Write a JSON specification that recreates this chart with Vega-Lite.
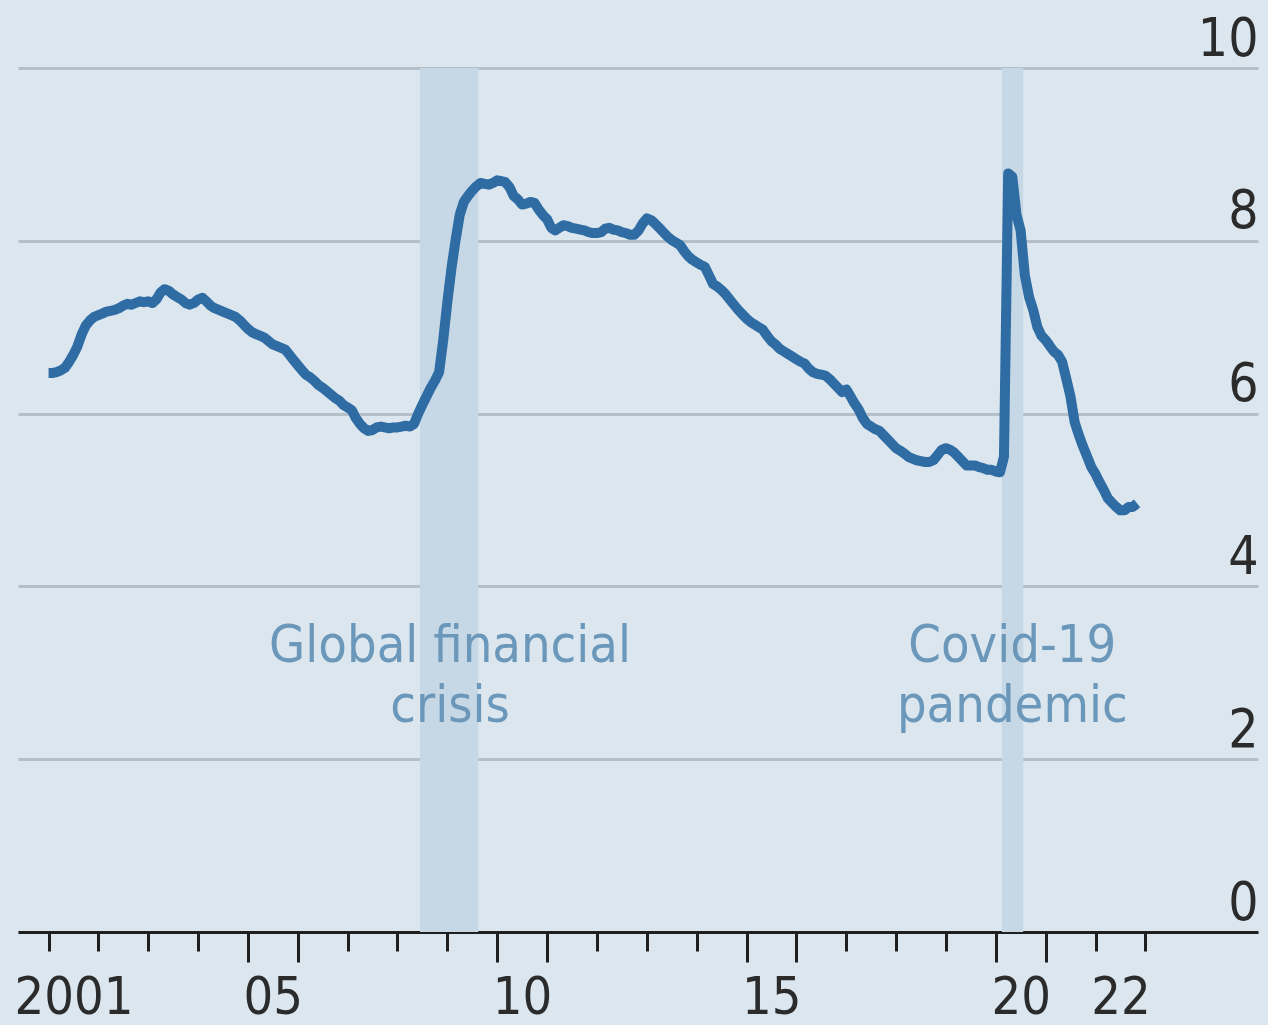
{
  "$schema": "https://vega.github.io/schema/vega-lite/v6.json",
  "width": 1240,
  "height": 864,
  "autosize": {"type": "none"},
  "padding": {"left": 18, "top": 68, "right": 10, "bottom": 93},
  "background": "#dbe6ee",
  "config": {
    "view": {"stroke": null},
    "font": "DejaVu Sans Condensed, DejaVu Sans, sans-serif",
    "axis": {"labelFont": "DejaVu Sans Condensed, DejaVu Sans, sans-serif", "labelColor": "#2b2b2b", "labelFontSize": 53, "title": null}
  },
  "datasets": {
    "bands": [
      {"start": "2008-06-15", "end": "2009-08-15", "event": "Global financial crisis"},
      {"start": "2020-02-15", "end": "2020-07-20", "event": "Covid-19 pandemic"}
    ],
    "notes": [
      {"date": "2009-01-20", "value": 3.12, "label": "Global financial|crisis"},
      {"date": "2020-05-01", "value": 3.12, "label": "Covid-19|pandemic"}
    ],
    "series": [
      {"date": "2001-01-01", "rate": 6.47}, {"date": "2001-02-01", "rate": 6.47}, {"date": "2001-03-01", "rate": 6.48}, {"date": "2001-04-01", "rate": 6.5}, {"date": "2001-05-01", "rate": 6.53}, {"date": "2001-06-01", "rate": 6.6}, {"date": "2001-07-01", "rate": 6.68}, {"date": "2001-08-01", "rate": 6.78}, {"date": "2001-09-01", "rate": 6.92}, {"date": "2001-10-01", "rate": 7.02}, {"date": "2001-11-01", "rate": 7.08}, {"date": "2001-12-01", "rate": 7.12},
      {"date": "2002-01-01", "rate": 7.14}, {"date": "2002-02-01", "rate": 7.16}, {"date": "2002-03-01", "rate": 7.18}, {"date": "2002-04-01", "rate": 7.19}, {"date": "2002-05-01", "rate": 7.2}, {"date": "2002-06-01", "rate": 7.22}, {"date": "2002-07-01", "rate": 7.25}, {"date": "2002-08-01", "rate": 7.27}, {"date": "2002-09-01", "rate": 7.26}, {"date": "2002-10-01", "rate": 7.28}, {"date": "2002-11-01", "rate": 7.3}, {"date": "2002-12-01", "rate": 7.29},
      {"date": "2003-01-01", "rate": 7.3}, {"date": "2003-02-01", "rate": 7.28}, {"date": "2003-03-01", "rate": 7.32}, {"date": "2003-04-01", "rate": 7.4}, {"date": "2003-05-01", "rate": 7.44}, {"date": "2003-06-01", "rate": 7.42}, {"date": "2003-07-01", "rate": 7.38}, {"date": "2003-08-01", "rate": 7.35}, {"date": "2003-09-01", "rate": 7.32}, {"date": "2003-10-01", "rate": 7.28}, {"date": "2003-11-01", "rate": 7.26}, {"date": "2003-12-01", "rate": 7.28},
      {"date": "2004-01-01", "rate": 7.32}, {"date": "2004-02-01", "rate": 7.34}, {"date": "2004-03-01", "rate": 7.3}, {"date": "2004-04-01", "rate": 7.25}, {"date": "2004-05-01", "rate": 7.22}, {"date": "2004-06-01", "rate": 7.2}, {"date": "2004-07-01", "rate": 7.18}, {"date": "2004-08-01", "rate": 7.16}, {"date": "2004-09-01", "rate": 7.14}, {"date": "2004-10-01", "rate": 7.12}, {"date": "2004-11-01", "rate": 7.08}, {"date": "2004-12-01", "rate": 7.03},
      {"date": "2005-01-01", "rate": 6.98}, {"date": "2005-02-01", "rate": 6.94}, {"date": "2005-03-01", "rate": 6.92}, {"date": "2005-04-01", "rate": 6.9}, {"date": "2005-05-01", "rate": 6.88}, {"date": "2005-06-01", "rate": 6.84}, {"date": "2005-07-01", "rate": 6.8}, {"date": "2005-08-01", "rate": 6.78}, {"date": "2005-09-01", "rate": 6.76}, {"date": "2005-10-01", "rate": 6.74}, {"date": "2005-11-01", "rate": 6.68}, {"date": "2005-12-01", "rate": 6.62},
      {"date": "2006-01-01", "rate": 6.56}, {"date": "2006-02-01", "rate": 6.5}, {"date": "2006-03-01", "rate": 6.45}, {"date": "2006-04-01", "rate": 6.42}, {"date": "2006-05-01", "rate": 6.38}, {"date": "2006-06-01", "rate": 6.33}, {"date": "2006-07-01", "rate": 6.3}, {"date": "2006-08-01", "rate": 6.26}, {"date": "2006-09-01", "rate": 6.22}, {"date": "2006-10-01", "rate": 6.18}, {"date": "2006-11-01", "rate": 6.15}, {"date": "2006-12-01", "rate": 6.1},
      {"date": "2007-01-01", "rate": 6.07}, {"date": "2007-02-01", "rate": 6.04}, {"date": "2007-03-01", "rate": 5.95}, {"date": "2007-04-01", "rate": 5.88}, {"date": "2007-05-01", "rate": 5.83}, {"date": "2007-06-01", "rate": 5.8}, {"date": "2007-07-01", "rate": 5.81}, {"date": "2007-08-01", "rate": 5.84}, {"date": "2007-09-01", "rate": 5.85}, {"date": "2007-10-01", "rate": 5.84}, {"date": "2007-11-01", "rate": 5.83}, {"date": "2007-12-01", "rate": 5.84},
      {"date": "2008-01-01", "rate": 5.84}, {"date": "2008-02-01", "rate": 5.85}, {"date": "2008-03-01", "rate": 5.86}, {"date": "2008-04-01", "rate": 5.85}, {"date": "2008-05-01", "rate": 5.88}, {"date": "2008-06-01", "rate": 6.0}, {"date": "2008-07-01", "rate": 6.1}, {"date": "2008-08-01", "rate": 6.2}, {"date": "2008-09-01", "rate": 6.3}, {"date": "2008-10-01", "rate": 6.38}, {"date": "2008-11-01", "rate": 6.48}, {"date": "2008-12-01", "rate": 6.85},
      {"date": "2009-01-01", "rate": 7.3}, {"date": "2009-02-01", "rate": 7.7}, {"date": "2009-03-01", "rate": 8.0}, {"date": "2009-04-01", "rate": 8.3}, {"date": "2009-05-01", "rate": 8.45}, {"date": "2009-06-01", "rate": 8.52}, {"date": "2009-07-01", "rate": 8.58}, {"date": "2009-08-01", "rate": 8.63}, {"date": "2009-09-01", "rate": 8.67}, {"date": "2009-10-01", "rate": 8.66}, {"date": "2009-11-01", "rate": 8.65}, {"date": "2009-12-01", "rate": 8.67},
      {"date": "2010-01-01", "rate": 8.7}, {"date": "2010-02-01", "rate": 8.69}, {"date": "2010-03-01", "rate": 8.68}, {"date": "2010-04-01", "rate": 8.62}, {"date": "2010-05-01", "rate": 8.52}, {"date": "2010-06-01", "rate": 8.48}, {"date": "2010-07-01", "rate": 8.42}, {"date": "2010-08-01", "rate": 8.43}, {"date": "2010-09-01", "rate": 8.45}, {"date": "2010-10-01", "rate": 8.44}, {"date": "2010-11-01", "rate": 8.36}, {"date": "2010-12-01", "rate": 8.3},
      {"date": "2011-01-01", "rate": 8.25}, {"date": "2011-02-01", "rate": 8.15}, {"date": "2011-03-01", "rate": 8.12}, {"date": "2011-04-01", "rate": 8.15}, {"date": "2011-05-01", "rate": 8.18}, {"date": "2011-06-01", "rate": 8.17}, {"date": "2011-07-01", "rate": 8.15}, {"date": "2011-08-01", "rate": 8.14}, {"date": "2011-09-01", "rate": 8.13}, {"date": "2011-10-01", "rate": 8.12}, {"date": "2011-11-01", "rate": 8.1}, {"date": "2011-12-01", "rate": 8.09},
      {"date": "2012-01-01", "rate": 8.09}, {"date": "2012-02-01", "rate": 8.1}, {"date": "2012-03-01", "rate": 8.14}, {"date": "2012-04-01", "rate": 8.15}, {"date": "2012-05-01", "rate": 8.13}, {"date": "2012-06-01", "rate": 8.12}, {"date": "2012-07-01", "rate": 8.1}, {"date": "2012-08-01", "rate": 8.09}, {"date": "2012-09-01", "rate": 8.07}, {"date": "2012-10-01", "rate": 8.07}, {"date": "2012-11-01", "rate": 8.12}, {"date": "2012-12-01", "rate": 8.2},
      {"date": "2013-01-01", "rate": 8.26}, {"date": "2013-02-01", "rate": 8.24}, {"date": "2013-03-01", "rate": 8.2}, {"date": "2013-04-01", "rate": 8.15}, {"date": "2013-05-01", "rate": 8.1}, {"date": "2013-06-01", "rate": 8.05}, {"date": "2013-07-01", "rate": 8.01}, {"date": "2013-08-01", "rate": 7.98}, {"date": "2013-09-01", "rate": 7.95}, {"date": "2013-10-01", "rate": 7.88}, {"date": "2013-11-01", "rate": 7.82}, {"date": "2013-12-01", "rate": 7.78},
      {"date": "2014-01-01", "rate": 7.75}, {"date": "2014-02-01", "rate": 7.72}, {"date": "2014-03-01", "rate": 7.7}, {"date": "2014-04-01", "rate": 7.6}, {"date": "2014-05-01", "rate": 7.5}, {"date": "2014-06-01", "rate": 7.47}, {"date": "2014-07-01", "rate": 7.43}, {"date": "2014-08-01", "rate": 7.38}, {"date": "2014-09-01", "rate": 7.32}, {"date": "2014-10-01", "rate": 7.26}, {"date": "2014-11-01", "rate": 7.2}, {"date": "2014-12-01", "rate": 7.15},
      {"date": "2015-01-01", "rate": 7.1}, {"date": "2015-02-01", "rate": 7.06}, {"date": "2015-03-01", "rate": 7.03}, {"date": "2015-04-01", "rate": 7.0}, {"date": "2015-05-01", "rate": 6.97}, {"date": "2015-06-01", "rate": 6.9}, {"date": "2015-07-01", "rate": 6.84}, {"date": "2015-08-01", "rate": 6.8}, {"date": "2015-09-01", "rate": 6.75}, {"date": "2015-10-01", "rate": 6.72}, {"date": "2015-11-01", "rate": 6.69}, {"date": "2015-12-01", "rate": 6.66},
      {"date": "2016-01-01", "rate": 6.63}, {"date": "2016-02-01", "rate": 6.6}, {"date": "2016-03-01", "rate": 6.58}, {"date": "2016-04-01", "rate": 6.52}, {"date": "2016-05-01", "rate": 6.48}, {"date": "2016-06-01", "rate": 6.46}, {"date": "2016-07-01", "rate": 6.45}, {"date": "2016-08-01", "rate": 6.44}, {"date": "2016-09-01", "rate": 6.4}, {"date": "2016-10-01", "rate": 6.35}, {"date": "2016-11-01", "rate": 6.3}, {"date": "2016-12-01", "rate": 6.25},
      {"date": "2017-01-01", "rate": 6.28}, {"date": "2017-02-01", "rate": 6.2}, {"date": "2017-03-01", "rate": 6.12}, {"date": "2017-04-01", "rate": 6.05}, {"date": "2017-05-01", "rate": 5.95}, {"date": "2017-06-01", "rate": 5.88}, {"date": "2017-07-01", "rate": 5.85}, {"date": "2017-08-01", "rate": 5.82}, {"date": "2017-09-01", "rate": 5.8}, {"date": "2017-10-01", "rate": 5.75}, {"date": "2017-11-01", "rate": 5.7}, {"date": "2017-12-01", "rate": 5.65},
      {"date": "2018-01-01", "rate": 5.6}, {"date": "2018-02-01", "rate": 5.57}, {"date": "2018-03-01", "rate": 5.54}, {"date": "2018-04-01", "rate": 5.5}, {"date": "2018-05-01", "rate": 5.48}, {"date": "2018-06-01", "rate": 5.46}, {"date": "2018-07-01", "rate": 5.45}, {"date": "2018-08-01", "rate": 5.44}, {"date": "2018-09-01", "rate": 5.44}, {"date": "2018-10-01", "rate": 5.46}, {"date": "2018-11-01", "rate": 5.52}, {"date": "2018-12-01", "rate": 5.58},
      {"date": "2019-01-01", "rate": 5.6}, {"date": "2019-02-01", "rate": 5.58}, {"date": "2019-03-01", "rate": 5.55}, {"date": "2019-04-01", "rate": 5.5}, {"date": "2019-05-01", "rate": 5.45}, {"date": "2019-06-01", "rate": 5.4}, {"date": "2019-07-01", "rate": 5.4}, {"date": "2019-08-01", "rate": 5.4}, {"date": "2019-09-01", "rate": 5.38}, {"date": "2019-10-01", "rate": 5.37}, {"date": "2019-11-01", "rate": 5.35}, {"date": "2019-12-01", "rate": 5.35},
      {"date": "2020-01-01", "rate": 5.33}, {"date": "2020-02-01", "rate": 5.32}, {"date": "2020-03-01", "rate": 5.5}, {"date": "2020-04-01", "rate": 8.78}, {"date": "2020-05-01", "rate": 8.74}, {"date": "2020-06-01", "rate": 8.3}, {"date": "2020-07-01", "rate": 8.12}, {"date": "2020-08-01", "rate": 7.6}, {"date": "2020-09-01", "rate": 7.35}, {"date": "2020-10-01", "rate": 7.2}, {"date": "2020-11-01", "rate": 7.0}, {"date": "2020-12-01", "rate": 6.9},
      {"date": "2021-01-01", "rate": 6.85}, {"date": "2021-02-01", "rate": 6.78}, {"date": "2021-03-01", "rate": 6.72}, {"date": "2021-04-01", "rate": 6.68}, {"date": "2021-05-01", "rate": 6.6}, {"date": "2021-06-01", "rate": 6.4}, {"date": "2021-07-01", "rate": 6.2}, {"date": "2021-08-01", "rate": 5.9}, {"date": "2021-09-01", "rate": 5.75}, {"date": "2021-10-01", "rate": 5.62}, {"date": "2021-11-01", "rate": 5.5}, {"date": "2021-12-01", "rate": 5.38},
      {"date": "2022-01-01", "rate": 5.3}, {"date": "2022-02-01", "rate": 5.2}, {"date": "2022-03-01", "rate": 5.12}, {"date": "2022-04-01", "rate": 5.02}, {"date": "2022-05-01", "rate": 4.97}, {"date": "2022-06-01", "rate": 4.92}, {"date": "2022-07-01", "rate": 4.88}, {"date": "2022-08-01", "rate": 4.88}, {"date": "2022-09-01", "rate": 4.92}, {"date": "2022-10-01", "rate": 4.92}, {"date": "2022-11-01", "rate": 4.96}
    ]
  },
  "resolve": {"axis": {"x": "independent", "y": "independent"}},
  "layer": [
    {
      "data": {"name": "bands"},
      "mark": {"type": "rect", "color": "#c6d7e5"},
      "encoding": {
        "x": {
          "field": "start", "type": "temporal",
          "scale": {"type": "utc", "domain": [{"year": 2000, "month": 5, "date": 22, "utc": true}, {"year": 2025, "month": 4, "date": 5, "utc": true}]},
          "axis": {
            "orient": "bottom",
            "values": [
              {"year": 2001, "month": 1, "date": 1, "utc": true}, {"year": 2002, "month": 1, "date": 1, "utc": true}, {"year": 2003, "month": 1, "date": 1, "utc": true}, {"year": 2004, "month": 1, "date": 1, "utc": true}, {"year": 2005, "month": 1, "date": 1, "utc": true}, {"year": 2006, "month": 1, "date": 1, "utc": true}, {"year": 2007, "month": 1, "date": 1, "utc": true}, {"year": 2008, "month": 1, "date": 1, "utc": true}, {"year": 2009, "month": 1, "date": 1, "utc": true}, {"year": 2010, "month": 1, "date": 1, "utc": true}, {"year": 2011, "month": 1, "date": 1, "utc": true}, {"year": 2012, "month": 1, "date": 1, "utc": true}, {"year": 2013, "month": 1, "date": 1, "utc": true}, {"year": 2014, "month": 1, "date": 1, "utc": true}, {"year": 2015, "month": 1, "date": 1, "utc": true}, {"year": 2016, "month": 1, "date": 1, "utc": true}, {"year": 2017, "month": 1, "date": 1, "utc": true}, {"year": 2018, "month": 1, "date": 1, "utc": true}, {"year": 2019, "month": 1, "date": 1, "utc": true}, {"year": 2020, "month": 1, "date": 1, "utc": true}, {"year": 2021, "month": 1, "date": 1, "utc": true}, {"year": 2022, "month": 1, "date": 1, "utc": true}, {"year": 2023, "month": 1, "date": 1, "utc": true}
            ],
            "labels": false, "grid": false,
            "domain": true, "domainColor": "#1f1f1f", "domainWidth": 3,
            "ticks": true, "tickColor": "#1f1f1f", "tickWidth": 3, "tickSize": 19
          }
        },
        "x2": {"field": "end"}
      }
    },
    {
      "data": {"name": "series"},
      "mark": {"type": "line", "color": "#2e6ca3", "strokeWidth": 10, "strokeJoin": "round", "strokeCap": "butt"},
      "encoding": {
        "x": {
          "field": "date", "type": "temporal",
          "scale": {"type": "utc", "domain": [{"year": 2000, "month": 5, "date": 22, "utc": true}, {"year": 2025, "month": 4, "date": 5, "utc": true}]},
          "axis": {
            "orient": "bottom",
            "values": [
              {"year": 2001, "month": 7, "date": 2, "utc": true}, {"year": 2005, "month": 7, "date": 2, "utc": true}, {"year": 2010, "month": 7, "date": 2, "utc": true}, {"year": 2015, "month": 7, "date": 2, "utc": true}, {"year": 2020, "month": 7, "date": 2, "utc": true}, {"year": 2022, "month": 7, "date": 2, "utc": true}
            ],
            "labelExpr": "utcyear(datum.value) == 2001 ? '2001' : utcFormat(datum.value, '%y')",
            "labelBaseline": "alphabetic", "labelPadding": 81, "labelFontSize": 52, "labelAlign": "center", "labelFlush": false, "labelOverlap": false,
            "grid": false, "domain": false, "ticks": false, "tickSize": 0
          }
        },
        "y": {
          "field": "rate", "type": "quantitative",
          "scale": {"domain": [0, 10], "nice": false, "zero": true},
          "axis": {
            "orient": "right", "values": [0, 2, 4, 6, 8, 10],
            "grid": true, "gridColor": "#b4c0c9", "gridWidth": 3,
            "domain": false, "ticks": false, "tickSize": 0,
            "labelAlign": "right", "labelBaseline": "alphabetic", "labelPadding": 0, "labelOffset": -13, "labelFlush": false
          }
        }
      }
    },
    {
      "data": {"name": "notes"},
      "mark": {"type": "text", "color": "#6b98ba", "fontSize": 52, "align": "center", "baseline": "alphabetic", "lineBreak": "|", "lineHeight": 60, "font": "DejaVu Sans Condensed, DejaVu Sans, sans-serif"},
      "encoding": {
        "x": {
          "field": "date", "type": "temporal",
          "scale": {"type": "utc", "domain": [{"year": 2000, "month": 5, "date": 22, "utc": true}, {"year": 2025, "month": 4, "date": 5, "utc": true}]},
          "axis": {
            "orient": "bottom",
            "values": [
              {"year": 2005, "month": 1, "date": 1, "utc": true}, {"year": 2006, "month": 1, "date": 1, "utc": true}, {"year": 2010, "month": 1, "date": 1, "utc": true}, {"year": 2011, "month": 1, "date": 1, "utc": true}, {"year": 2015, "month": 1, "date": 1, "utc": true}, {"year": 2016, "month": 1, "date": 1, "utc": true}, {"year": 2020, "month": 1, "date": 1, "utc": true}, {"year": 2021, "month": 1, "date": 1, "utc": true}
            ],
            "labels": false, "grid": false, "domain": false,
            "ticks": true, "tickColor": "#1f1f1f", "tickWidth": 3, "tickSize": 30
          }
        },
        "y": {"field": "value", "type": "quantitative", "scale": {"domain": [0, 10], "nice": false}, "axis": null},
        "text": {"field": "label"}
      }
    }
  ]
}
